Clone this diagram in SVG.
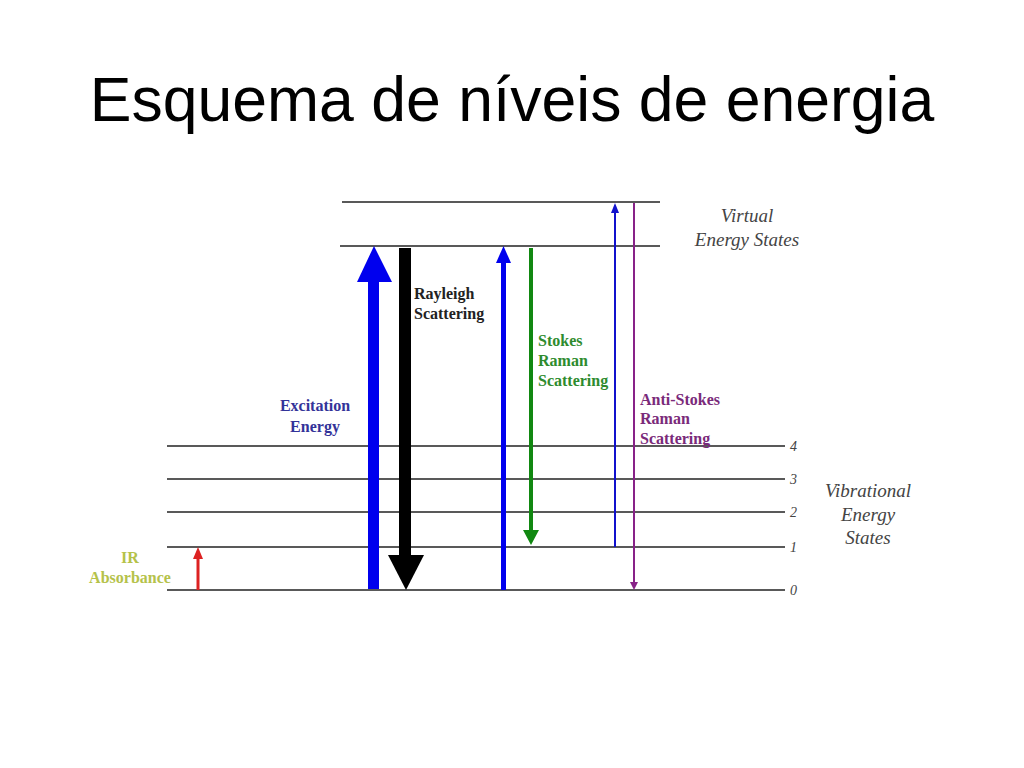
<svg xmlns="http://www.w3.org/2000/svg" width="1024" height="768" viewBox="0 0 1024 768">
<style>
.lvl{stroke:#222;stroke-width:1.3}
.lab{font-family:"Liberation Serif","DejaVu Serif",serif;font-weight:bold;font-size:16px}
.it{font-family:"Liberation Serif","DejaVu Serif",serif;font-style:italic;font-size:19px;fill:#444}
.num{font-family:"Liberation Serif","DejaVu Serif",serif;font-style:italic;font-size:14px;fill:#444}
</style>
<rect width="1024" height="768" fill="#fff"/>
<text x="512" y="121" text-anchor="middle" font-family="Liberation Sans, Arial, sans-serif" font-size="62.5" fill="#000">Esquema de níveis de energia</text>
<g id="levels">
<line class="lvl" x1="342" y1="202" x2="660" y2="202"/>
<line class="lvl" x1="340" y1="246" x2="660" y2="246"/>
<line class="lvl" x1="167" y1="446" x2="785" y2="446"/>
<line class="lvl" x1="167" y1="479" x2="785" y2="479"/>
<line class="lvl" x1="167" y1="512" x2="785" y2="512"/>
<line class="lvl" x1="167" y1="547" x2="785" y2="547"/>
<line class="lvl" x1="167" y1="590" x2="785" y2="590"/>
<text class="num" x="790" y="451">4</text>
<text class="num" x="790" y="484">3</text>
<text class="num" x="790" y="517">2</text>
<text class="num" x="790" y="552">1</text>
<text class="num" x="790" y="595">0</text>
</g>
<g id="connectors">
<g id="excitation">
<rect x="368" y="280" width="11" height="309" fill="#0000ee"/>
<polygon points="357,282 392,282 374,246" fill="#0000ee"/>
</g>
<g id="rayleigh">
<rect x="399" y="248" width="12" height="309" fill="#000"/>
<polygon points="388,555 424,555 406,590" fill="#000"/>
</g>
<g id="stokes-excitation">
<rect x="501" y="260" width="5" height="330" fill="#0000ee"/>
<polygon points="496,263 511,263 503.5,246" fill="#0000ee"/>
</g>
<g id="stokes">
<rect x="529" y="248" width="4" height="284" fill="#118811"/>
<polygon points="523,530 539,530 531,545" fill="#118811"/>
</g>
<g id="antistokes-excitation">
<line x1="615" y1="547" x2="615" y2="210" stroke="#1111cc" stroke-width="2"/>
<polygon points="611,213 619,213 615,203" fill="#1111cc"/>
</g>
<g id="antistokes">
<line x1="634" y1="203" x2="634" y2="583" stroke="#882288" stroke-width="2"/>
<polygon points="630,582 638,582 634,590" fill="#882288"/>
</g>
<g id="ir">
<line x1="198" y1="590" x2="198" y2="556" stroke="#dd2222" stroke-width="3"/>
<polygon points="193,559 203,559 198,547" fill="#dd2222"/>
</g>
</g>
<g id="label-rayleigh" class="lab" fill="#222">
<text x="414" y="299">Rayleigh</text>
<text x="414" y="319">Scattering</text>
</g>
<g id="label-excitation" class="lab" fill="#333399" text-anchor="middle">
<text x="315" y="411">Excitation</text>
<text x="315" y="432">Energy</text>
</g>
<g id="label-stokes" class="lab" fill="#2e8b2e">
<text x="538" y="346">Stokes</text>
<text x="538" y="366">Raman</text>
<text x="538" y="386">Scattering</text>
</g>
<g id="label-antistokes" class="lab" fill="#7a2a7a">
<text x="640" y="405">Anti-Stokes</text>
<text x="640" y="424">Raman</text>
<text x="640" y="444">Scattering</text>
</g>
<g id="label-ir" class="lab" fill="#b5c24a" text-anchor="middle">
<text x="130" y="563">IR</text>
<text x="130" y="583">Absorbance</text>
</g>
<g id="label-virtual" class="it" text-anchor="middle">
<text x="747" y="222">Virtual</text>
<text x="747" y="246">Energy States</text>
</g>
<g id="label-vibrational" class="it" text-anchor="middle">
<text x="868" y="497">Vibrational</text>
<text x="868" y="521">Energy</text>
<text x="868" y="544">States</text>
</g>
</svg>
